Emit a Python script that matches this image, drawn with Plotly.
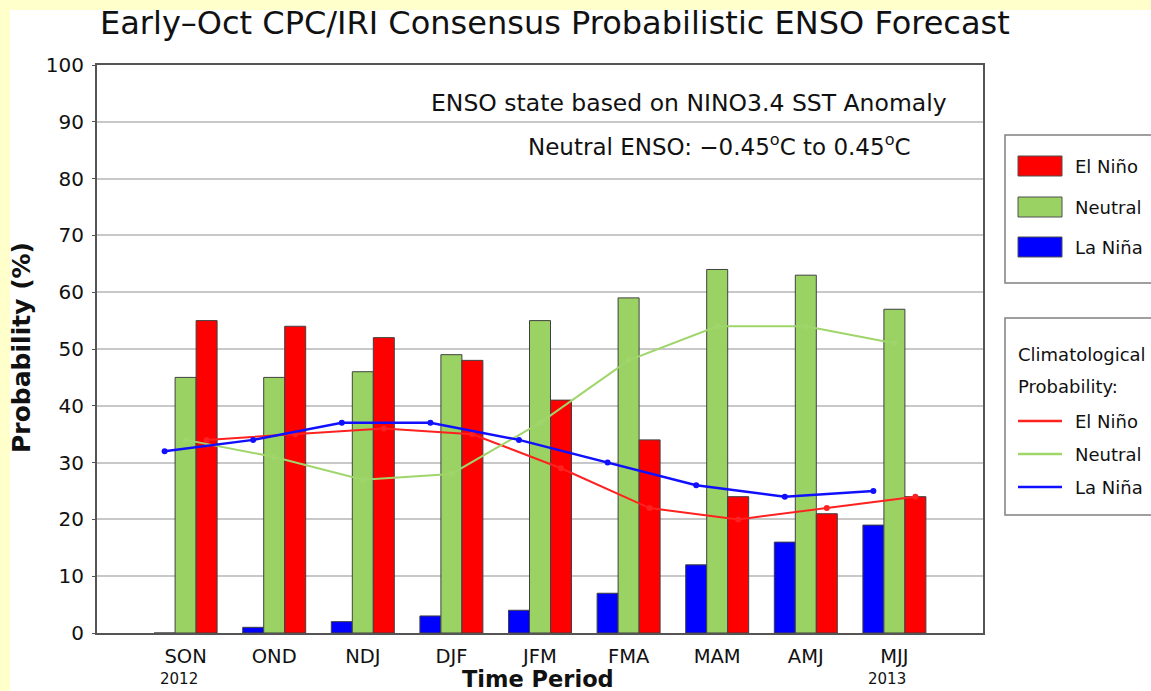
import plotly.graph_objects as go

# ---- data ----
periods = ["SON", "OND", "NDJ", "DJF", "JFM", "FMA", "MAM", "AMJ", "MJJ"]
years = ["2012", "", "", "", "", "", "", "", "2013"]
la_nina = [0, 1, 2, 3, 4, 7, 12, 16, 19]
neutral = [45, 45, 46, 49, 55, 59, 64, 63, 57]
el_nino = [55, 54, 52, 48, 41, 34, 24, 21, 24]
clim_la_nina = [32, 34, 37, 37, 34, 30, 26, 24, 25]
clim_neutral = [34, 31, 27, 28, 37, 48, 54, 54, 51]
clim_el_nino = [34, 35, 36, 35, 29, 22, 20, 22, 24]

RED = "#ff0000"
GREEN = "#9bd264"
BLUE = "#0000ff"
LRED = "#ff2020"
LGREEN = "#9fd56a"
LBLUE = "#1010ff"
YELLOW = "#ffffcc"
FONT = "DejaVu Sans, Liberation Sans, Arial, sans-serif"

W, H = 1151, 691
X0, X1, Y0, Y1 = 97, 983, 65, 633  # plot area in pixels


def px(x):
    return (x - X0) / (X1 - X0)


def py(y):
    return (Y1 - y) / (Y1 - Y0)


idx = list(range(len(periods)))
bw = 0.237
series = [
    ("La Niña", la_nina, BLUE, -1.5 * bw),
    ("Neutral", neutral, GREEN, -0.5 * bw),
    ("El Niño", el_nino, RED, 0.5 * bw),
]

fig = go.Figure()
for name, vals, col, off in series:
    fig.add_trace(go.Bar(
        x=idx, y=vals, width=bw, offset=off, name=name,
        marker=dict(color=col, line=dict(color="#404040", width=1)),
        showlegend=False,
    ))

lines = [
    ("El Niño clim", clim_el_nino, LRED, 1 * bw, 2),
    ("Neutral clim", clim_neutral, LGREEN, 0, 2),
    ("La Niña clim", clim_la_nina, LBLUE, -1 * bw, 2.5),
]
for name, vals, col, off, lw in lines:
    fig.add_trace(go.Scatter(
        x=[i + off for i in idx], y=vals, mode="lines+markers", name=name,
        line=dict(color=col, width=lw), marker=dict(color=col, size=6),
        showlegend=False,
    ))

shapes = [
    # white page area over yellow border
    dict(type="rect", xref="paper", yref="paper", x0=px(10), x1=px(1165),
         y0=py(10), y1=py(705), fillcolor="white", line=dict(width=0), layer="below"),
    # legend box 1
    dict(type="rect", xref="paper", yref="paper", x0=px(1005), x1=px(1170),
         y0=py(135), y1=py(283), fillcolor="white", line=dict(color="#808080", width=1.5)),
    # legend box 2
    dict(type="rect", xref="paper", yref="paper", x0=px(1005), x1=px(1170),
         y0=py(318), y1=py(515), fillcolor="white", line=dict(color="#808080", width=1.5)),
]
annotations = [
    dict(text="Early\u2013Oct CPC/IRI Consensus Probabilistic ENSO Forecast",
         xref="paper", yref="paper", x=px(555), y=py(23), showarrow=False,
         font=dict(size=32, color="#111", family=FONT), xanchor="center", yanchor="middle"),
    dict(text="ENSO state based on NINO3.4 SST Anomaly", xref="paper", yref="paper",
         x=px(949), y=py(103), showarrow=False, xanchor="right", yanchor="middle",
         font=dict(size=23.5, color="#111", family=FONT)),
    dict(text="Neutral ENSO: \u22120.45<sup>o</sup>C to 0.45<sup>o</sup>C", xref="paper", yref="paper",
         x=px(913), y=py(145), showarrow=False, xanchor="right", yanchor="middle",
         font=dict(size=23, color="#111", family=FONT)),
    dict(text="<b>Probability (%)</b>", xref="paper", yref="paper", x=px(22), y=py(348),
         showarrow=False, textangle=-90, xanchor="center", yanchor="middle",
         font=dict(size=25, color="#111", family=FONT)),
    dict(text="<b>Time Period</b>", xref="paper", yref="paper", x=px(538), y=py(679),
         showarrow=False, xanchor="center", yanchor="middle",
         font=dict(size=22.5, color="#111", family=FONT)),
]

# year labels under first/last period
for i, yr in zip(idx, years):
    if yr:
        annotations.append(dict(text=yr, xref="x", yref="paper", x=i, xshift=-7, y=py(679),
                                showarrow=False, xanchor="center", yanchor="middle",
                                font=dict(size=15, color="#111", family=FONT)))

# legend 1 entries
for lab, col, yc in [("El Niño", RED, 166), ("Neutral", GREEN, 207), ("La Niña", BLUE, 247)]:
    shapes.append(dict(type="rect", xref="paper", yref="paper", x0=px(1018), x1=px(1062),
                       y0=py(yc - 10), y1=py(yc + 10), fillcolor=col,
                       line=dict(color="#505050", width=1)))
    annotations.append(dict(text=lab, xref="paper", yref="paper", x=px(1073), y=py(yc),
                            showarrow=False, xanchor="left", yanchor="middle",
                            font=dict(size=18, color="#111", family=FONT)))

# legend 2 entries
annotations.append(dict(text="Climatological", xref="paper", yref="paper", x=px(1016), y=py(354),
                        showarrow=False, xanchor="left", yanchor="middle",
                        font=dict(size=18, color="#111", family=FONT)))
annotations.append(dict(text="Probability:", xref="paper", yref="paper", x=px(1016), y=py(386),
                        showarrow=False, xanchor="left", yanchor="middle",
                        font=dict(size=18, color="#111", family=FONT)))
for lab, col, yc in [("El Niño", LRED, 421), ("Neutral", LGREEN, 454), ("La Niña", LBLUE, 487)]:
    shapes.append(dict(type="line", xref="paper", yref="paper", x0=px(1018), x1=px(1062),
                       y0=py(yc), y1=py(yc), line=dict(color=col, width=2.5)))
    annotations.append(dict(text=lab, xref="paper", yref="paper", x=px(1073), y=py(yc),
                            showarrow=False, xanchor="left", yanchor="middle",
                            font=dict(size=18, color="#111", family=FONT)))

fig.update_layout(
    width=W, height=H,
    margin=dict(l=X0, r=W - X1, t=Y0, b=H - Y1, pad=0, autoexpand=False),
    paper_bgcolor=YELLOW, plot_bgcolor="white",
    barmode="overlay",
    font=dict(family=FONT, color="#111"),
    shapes=shapes, annotations=annotations,
    xaxis=dict(range=[-1, 9], tickmode="array", tickvals=idx, ticktext=periods,
               showgrid=False, zeroline=False, showline=True, mirror=True, automargin=False,
               linecolor="#555555", linewidth=2, ticks="", ticklabelstandoff=5,
               tickfont=dict(size=19.5, color="#111", family=FONT)),
    yaxis=dict(range=[0, 100], tickmode="array", tickvals=list(range(0, 101, 10)),
               showgrid=True, gridcolor="#c8c8c8", gridwidth=1.5, zeroline=False,
               showline=True, mirror=True, linecolor="#555555", linewidth=2, automargin=False,
               ticks="outside", ticklen=3, tickcolor="#555555", ticklabelstandoff=4,
               tickfont=dict(size=20, color="#111", family=FONT)),
)

fig.write_html(
    "out.html",
    config={"displayModeBar": False},
    post_script="document.body.style.margin='0px';document.body.style.overflow='hidden';",
)
